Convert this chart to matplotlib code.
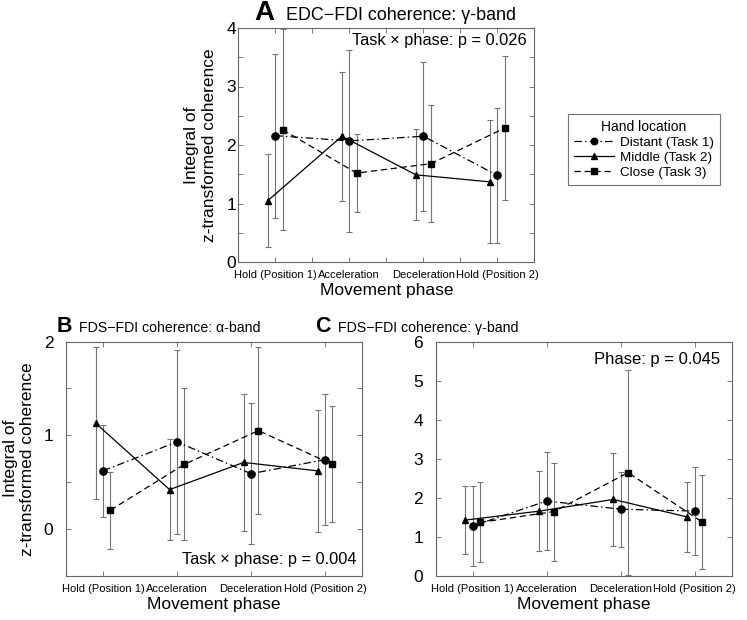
import matplotlib
matplotlib.use("Agg")
import matplotlib.pyplot as plt
from matplotlib.lines import Line2D
import numpy as np

plt.rcParams['font.family'] = ['Liberation Sans', 'DejaVu Sans']

phases = ["Hold (Position 1)", "Acceleration", "Deceleration", "Hold (Position 2)"]
groups = ["Distant (Task 1)", "Middle (Task 2)", "Close (Task 3)"]

# panel A: EDC-FDI gamma
a_distant = [2.16, 2.07, 2.15, 1.48]
a_distant_sd = [1.40, 1.55, 1.27, 1.15]
a_middle = [1.05, 2.15, 1.49, 1.37]
a_middle_sd = [0.80, 1.10, 0.78, 1.05]
a_close = [2.26, 1.52, 1.68, 2.29]
a_close_sd = [1.72, 0.66, 1.00, 1.23]

# panel B: FDS-FDI alpha
b_distant = [0.62, 0.93, 0.59, 0.74]
b_distant_sd = [0.49, 0.98, 0.75, 0.70]
b_middle = [1.13, 0.42, 0.71, 0.62]
b_middle_sd = [0.81, 0.54, 0.73, 0.65]
b_close = [0.20, 0.69, 1.05, 0.69]
b_close_sd = [0.41, 0.81, 0.89, 0.62]

# panel C: FDS-FDI gamma
c_distant = [1.28, 1.92, 1.71, 1.66]
c_distant_sd = [1.03, 1.26, 0.96, 1.14]
c_middle = [1.43, 1.66, 1.96, 1.51]
c_middle_sd = [0.88, 1.03, 1.20, 0.90]
c_close = [1.37, 1.65, 2.65, 1.38]
c_close_sd = [1.03, 1.26, 2.63, 1.22]

styles = [dict(ls=(0, (6, 2.5, 1.2, 2.5)), marker='o', ms=5.2),
          dict(ls='-', marker='^', ms=4.8),
          dict(ls=(0, (5, 3)), marker='s', ms=4.3)]
offsets = [0.0, -0.1, 0.1]


def panel(ax, series, ylim, yticks, yminor, xminor, ypad, note, note_xy, note_size):
    x = np.arange(1, 5)
    for (m, sd), st, off in zip(series, styles, offsets):
        ax.errorbar(x + off, m, yerr=sd, fmt='none', ecolor='0.45',
                    elinewidth=0.8, capsize=2, capthick=0.8, zorder=1)
        ax.plot(x + off, m, color='black', lw=0.9, ls=st['ls'],
                marker=st['marker'], ms=st['ms'], mfc='black', mec='black', zorder=3)
    ax.set_xlim(0.5, 4.5)
    ax.set_ylim(*ylim)
    ax.set_xticks(x)
    ax.set_xticklabels(phases, fontsize=8)
    if xminor:
        ax.set_xticks([1.5, 2.5, 3.5], minor=True)
    ax.set_yticks(yticks)
    ax.set_yticklabels([str(t) for t in yticks], fontsize=12.5)
    if yminor:
        ax.set_yticks(yminor, minor=True)
    ax.tick_params(which='both', direction='in', top=True, right=True,
                   length=3.5, width=0.6, color='0.4')
    ax.tick_params(axis='y', pad=ypad)
    ax.tick_params(axis='x', pad=6)
    for s in ax.spines.values():
        s.set_color('0.4')
        s.set_linewidth(0.8)
    ax.set_xlabel("Movement phase", fontsize=12.5, labelpad=2)
    ax.text(note_xy[0], note_xy[1], note, transform=ax.transAxes,
            ha='right', va='center', fontsize=note_size)


fig = plt.figure(figsize=(7.47, 6.2), dpi=100)
W, H = 747, 620


def axes_px(x0, y0, x1, y1):
    return fig.add_axes([x0 / W, 1 - y1 / H, (x1 - x0) / W, (y1 - y0) / H])


axA = axes_px(238.3, 28, 534.3, 262)
axB = axes_px(66, 341.7, 362, 575.7)
axC = axes_px(435.7, 342.3, 731.7, 575.7)

panel(axA, [(a_distant, a_distant_sd), (a_middle, a_middle_sd), (a_close, a_close_sd)],
      (0, 4), [0, 1, 2, 3, 4], [0.5, 1.5, 2.5, 3.5], True, 1.5,
      "Task \u00d7 phase: p = 0.026", (0.975, 0.945), 11.8)
panel(axB, [(b_distant, b_distant_sd), (b_middle, b_middle_sd), (b_close, b_close_sd)],
      (-0.5, 2), [0, 1, 2], [-0.5, 0.5, 1.5], False, 9,
      "Task \u00d7 phase: p = 0.004", (0.98, 0.07), 11.8)
panel(axC, [(c_distant, c_distant_sd), (c_middle, c_middle_sd), (c_close, c_close_sd)],
      (0, 6), [0, 1, 2, 3, 4, 5, 6], None, False, 9,
      "Phase: p = 0.045", (0.96, 0.925), 12)

axA.set_ylabel("Integral of\nz-transformed coherence", fontsize=12.5, labelpad=7)
axB.set_ylabel("Integral of\nz-transformed coherence", fontsize=12.5, labelpad=6)

# panel titles
for letter, lx, tx, by, lsize, tsize, txt in [
        ("A", 254, 286, 20, 20, 12.9, "EDC\u2212FDI coherence: \u03b3-band"),
        ("B", 57, 79, 332, 15.5, 10.2, "FDS\u2212FDI coherence: \u03b1-band"),
        ("C", 315, 338, 332, 15.5, 10.2, "FDS\u2212FDI coherence: \u03b3-band")]:
    fig.text(lx / W, 1 - by / H, letter, fontsize=lsize, fontweight='bold', va='baseline')
    fig.text(tx / W, 1 - by / H, txt, fontsize=tsize, va='baseline')

handles = [Line2D([], [], color='black', lw=0.9, ls=st['ls'], marker=st['marker'],
                  ms=st['ms'] - 0.5, mfc='black') for st in styles]
leg = fig.legend(handles, groups, title="Hand location", loc='upper left',
                 bbox_to_anchor=(567.7 / W, 1 - 114 / H), bbox_transform=fig.transFigure,
                 borderaxespad=0, fontsize=9.7, title_fontsize=10, frameon=True,
                 fancybox=False, framealpha=1, edgecolor='0.45', handlelength=3.0,
                 handletextpad=0.4, labelspacing=0.18, borderpad=0.45, numpoints=1)
leg.get_frame().set_linewidth(0.8)

fig.savefig("out.png", dpi=100)
